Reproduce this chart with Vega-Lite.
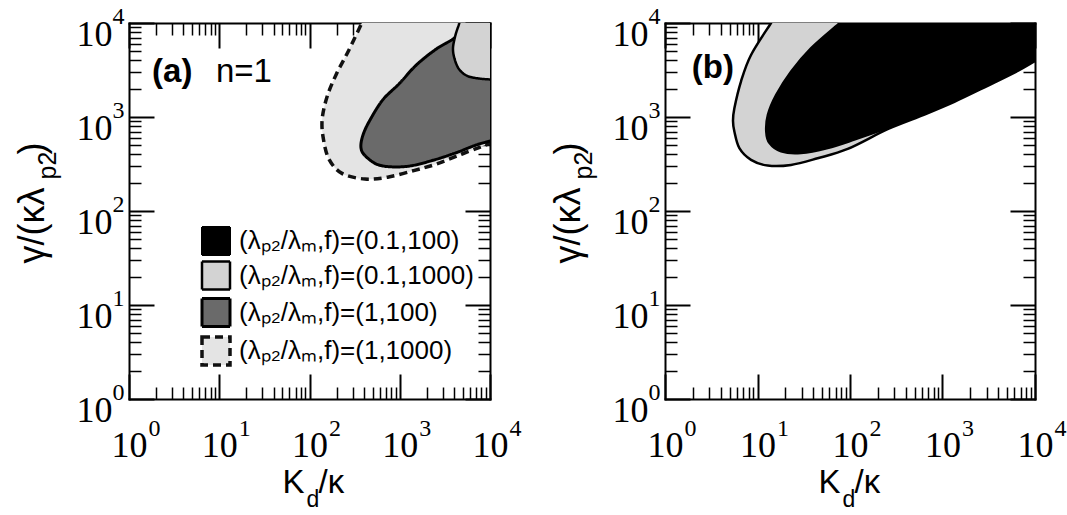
{
  "$schema": "https://vega.github.io/schema/vega-lite/v6.json",
  "padding": {"left": 14, "top": 4, "right": 5, "bottom": 5},
  "bounds": "flush",
  "spacing": 175,
  "config": {
    "view": {"stroke": null},
    "axis": {"grid": false, "domainColor": "black", "tickColor": "black", "labelColor": "black", "titleColor": "black", "labelFlush": false, "labelOverlap": false, "labelBound": false, "zindex": 1, "domainCap": "square", "titleFont": "Liberation Sans", "titleFontWeight": "normal", "titleFontSize": 33, "labelFont": "Liberation Serif"}
  },
  "datasets": {
    "regions": [
      {"p": "a", "s": "(1,1000)", "i": 0, "x": 426.6, "y": 12589},
      {"p": "a", "s": "(1,1000)", "i": 1, "x": 380.2, "y": 10000},
      {"p": "a", "s": "(1,1000)", "i": 2, "x": 269.2, "y": 5012},
      {"p": "a", "s": "(1,1000)", "i": 3, "x": 197.0, "y": 2818},
      {"p": "a", "s": "(1,1000)", "i": 4, "x": 155.9, "y": 1622},
      {"p": "a", "s": "(1,1000)", "i": 5, "x": 138.0, "y": 933.3},
      {"p": "a", "s": "(1,1000)", "i": 6, "x": 142.9, "y": 575.4},
      {"p": "a", "s": "(1,1000)", "i": 7, "x": 164.8, "y": 354.8},
      {"p": "a", "s": "(1,1000)", "i": 8, "x": 229.1, "y": 251.2},
      {"p": "a", "s": "(1,1000)", "i": 9, "x": 411.1, "y": 218.8},
      {"p": "a", "s": "(1,1000)", "i": 10, "x": 734.5, "y": 229.1},
      {"p": "a", "s": "(1,1000)", "i": 11, "x": 1429, "y": 269.2},
      {"p": "a", "s": "(1,1000)", "i": 12, "x": 2559, "y": 316.2},
      {"p": "a", "s": "(1,1000)", "i": 13, "x": 4571, "y": 393.6},
      {"p": "a", "s": "(1,1000)", "i": 14, "x": 7534, "y": 473.2},
      {"p": "a", "s": "(1,1000)", "i": 15, "x": 10000, "y": 524.8},
      {"p": "a", "s": "(1,1000)", "i": 16, "x": 13183, "y": 582.1},
      {"p": "a", "s": "(1,1000)", "i": 17, "x": 19953, "y": 631.0},
      {"p": "a", "s": "(1,1000)", "i": 18, "x": 19953, "y": 19953},
      {"p": "a", "s": "(1,1000)", "i": 19, "x": 426.6, "y": 19953},

      {"p": "a", "s": "(1,100)", "i": 0, "x": 6607, "y": 12589},
      {"p": "a", "s": "(1,100)", "i": 1, "x": 5754, "y": 10000},
      {"p": "a", "s": "(1,100)", "i": 2, "x": 4169, "y": 7079},
      {"p": "a", "s": "(1,100)", "i": 3, "x": 2512, "y": 5248},
      {"p": "a", "s": "(1,100)", "i": 4, "x": 1514, "y": 3548},
      {"p": "a", "s": "(1,100)", "i": 5, "x": 1000, "y": 2291},
      {"p": "a", "s": "(1,100)", "i": 6, "x": 645.7, "y": 1514},
      {"p": "a", "s": "(1,100)", "i": 7, "x": 457.1, "y": 891.3},
      {"p": "a", "s": "(1,100)", "i": 8, "x": 389.0, "y": 631.0},
      {"p": "a", "s": "(1,100)", "i": 9, "x": 371.5, "y": 473.2},
      {"p": "a", "s": "(1,100)", "i": 10, "x": 411.1, "y": 389.0},
      {"p": "a", "s": "(1,100)", "i": 11, "x": 549.5, "y": 316.2},
      {"p": "a", "s": "(1,100)", "i": 12, "x": 794.3, "y": 295.1},
      {"p": "a", "s": "(1,100)", "i": 13, "x": 1318, "y": 302.0},
      {"p": "a", "s": "(1,100)", "i": 14, "x": 2344, "y": 346.7},
      {"p": "a", "s": "(1,100)", "i": 15, "x": 4217, "y": 416.9},
      {"p": "a", "s": "(1,100)", "i": 16, "x": 6918, "y": 501.2},
      {"p": "a", "s": "(1,100)", "i": 17, "x": 10000, "y": 555.9},
      {"p": "a", "s": "(1,100)", "i": 18, "x": 13183, "y": 602.6},
      {"p": "a", "s": "(1,100)", "i": 19, "x": 19953, "y": 660.7},
      {"p": "a", "s": "(1,100)", "i": 20, "x": 19953, "y": 19953},
      {"p": "a", "s": "(1,100)", "i": 21, "x": 6607, "y": 19953},

      {"p": "a", "s": "(0.1,1000)", "i": 0, "x": 4786, "y": 12589},
      {"p": "a", "s": "(0.1,1000)", "i": 1, "x": 4571, "y": 10000},
      {"p": "a", "s": "(0.1,1000)", "i": 2, "x": 4140, "y": 7413},
      {"p": "a", "s": "(0.1,1000)", "i": 3, "x": 3890, "y": 5370},
      {"p": "a", "s": "(0.1,1000)", "i": 4, "x": 4074, "y": 4074},
      {"p": "a", "s": "(0.1,1000)", "i": 5, "x": 4571, "y": 3199},
      {"p": "a", "s": "(0.1,1000)", "i": 6, "x": 5623, "y": 2729},
      {"p": "a", "s": "(0.1,1000)", "i": 7, "x": 7534, "y": 2570},
      {"p": "a", "s": "(0.1,1000)", "i": 8, "x": 10000, "y": 2512},
      {"p": "a", "s": "(0.1,1000)", "i": 9, "x": 13183, "y": 2512},
      {"p": "a", "s": "(0.1,1000)", "i": 10, "x": 19953, "y": 2512},
      {"p": "a", "s": "(0.1,1000)", "i": 11, "x": 19953, "y": 19953},
      {"p": "a", "s": "(0.1,1000)", "i": 12, "x": 4786, "y": 19953},

      {"p": "b", "s": "(0.1,1000)", "i": 0, "x": 16.22, "y": 12589},
      {"p": "b", "s": "(0.1,1000)", "i": 1, "x": 14.00, "y": 10000},
      {"p": "b", "s": "(0.1,1000)", "i": 2, "x": 8.511, "y": 4571},
      {"p": "b", "s": "(0.1,1000)", "i": 3, "x": 6.637, "y": 2399},
      {"p": "b", "s": "(0.1,1000)", "i": 4, "x": 5.623, "y": 1242},
      {"p": "b", "s": "(0.1,1000)", "i": 5, "x": 5.433, "y": 912.0},
      {"p": "b", "s": "(0.1,1000)", "i": 6, "x": 5.623, "y": 699.8},
      {"p": "b", "s": "(0.1,1000)", "i": 7, "x": 6.368, "y": 465.6},
      {"p": "b", "s": "(0.1,1000)", "i": 8, "x": 8.511, "y": 349.9},
      {"p": "b", "s": "(0.1,1000)", "i": 9, "x": 12.88, "y": 304.1},
      {"p": "b", "s": "(0.1,1000)", "i": 10, "x": 23.01, "y": 309.0},
      {"p": "b", "s": "(0.1,1000)", "i": 11, "x": 44.67, "y": 363.9},
      {"p": "b", "s": "(0.1,1000)", "i": 12, "x": 94.41, "y": 457.1},
      {"p": "b", "s": "(0.1,1000)", "i": 13, "x": 255.3, "y": 741.3},
      {"p": "b", "s": "(0.1,1000)", "i": 14, "x": 586.1, "y": 1028},
      {"p": "b", "s": "(0.1,1000)", "i": 15, "x": 1343, "y": 1452},
      {"p": "b", "s": "(0.1,1000)", "i": 16, "x": 3076, "y": 2148},
      {"p": "b", "s": "(0.1,1000)", "i": 17, "x": 6501, "y": 3090},
      {"p": "b", "s": "(0.1,1000)", "i": 18, "x": 10000, "y": 3936},
      {"p": "b", "s": "(0.1,1000)", "i": 19, "x": 13183, "y": 4571},
      {"p": "b", "s": "(0.1,1000)", "i": 20, "x": 19953, "y": 5754},
      {"p": "b", "s": "(0.1,1000)", "i": 21, "x": 19953, "y": 19953},
      {"p": "b", "s": "(0.1,1000)", "i": 22, "x": 16.22, "y": 19953},

      {"p": "b", "s": "(0.1,100)", "i": 0, "x": 98.86, "y": 12589},
      {"p": "b", "s": "(0.1,100)", "i": 1, "x": 76.74, "y": 10000},
      {"p": "b", "s": "(0.1,100)", "i": 2, "x": 37.84, "y": 5420},
      {"p": "b", "s": "(0.1,100)", "i": 3, "x": 23.01, "y": 3055},
      {"p": "b", "s": "(0.1,100)", "i": 4, "x": 15.85, "y": 1722},
      {"p": "b", "s": "(0.1,100)", "i": 5, "x": 12.88, "y": 1054},
      {"p": "b", "s": "(0.1,100)", "i": 6, "x": 12.36, "y": 699.8},
      {"p": "b", "s": "(0.1,100)", "i": 7, "x": 13.43, "y": 526.0},
      {"p": "b", "s": "(0.1,100)", "i": 8, "x": 17.95, "y": 428.5},
      {"p": "b", "s": "(0.1,100)", "i": 9, "x": 29.51, "y": 412.1},
      {"p": "b", "s": "(0.1,100)", "i": 10, "x": 57.41, "y": 465.6},
      {"p": "b", "s": "(0.1,100)", "i": 11, "x": 111.4, "y": 571.5},
      {"p": "b", "s": "(0.1,100)", "i": 12, "x": 255.3, "y": 760.3},
      {"p": "b", "s": "(0.1,100)", "i": 13, "x": 586.1, "y": 1054},
      {"p": "b", "s": "(0.1,100)", "i": 14, "x": 1343, "y": 1486},
      {"p": "b", "s": "(0.1,100)", "i": 15, "x": 3076, "y": 2203},
      {"p": "b", "s": "(0.1,100)", "i": 16, "x": 6501, "y": 3184},
      {"p": "b", "s": "(0.1,100)", "i": 17, "x": 10000, "y": 4027},
      {"p": "b", "s": "(0.1,100)", "i": 18, "x": 13183, "y": 4677},
      {"p": "b", "s": "(0.1,100)", "i": 19, "x": 19953, "y": 5888},
      {"p": "b", "s": "(0.1,100)", "i": 20, "x": 19953, "y": 19953},
      {"p": "b", "s": "(0.1,100)", "i": 21, "x": 98.86, "y": 19953}
    ]
  },
  "hconcat": [
    {
      "width": 361,
      "height": 376,
      "resolve": {"axis": {"x": "independent", "y": "independent"}},
      "layer": [
        {
          "data": {"name": "regions"},
          "transform": [{"filter": "datum.p == 'a' && datum.s == '(1,1000)'"}],
          "mark": {"type": "line", "clip": true, "interpolate": "cardinal"},
          "encoding": {
            "x": {"field": "x", "type": "quantitative", "scale": {"type": "log", "domain": [1, 10000], "nice": false},
                  "axis": {"orient": "bottom", "values": [1, 10, 100, 1000, 10000], "tickSize": -25, "tickWidth": 2, "labels": false, "domain": true, "domainWidth": 2,
                           "title": "/κ", "titleX": 189, "titleY": 93, "titleAlign": "left", "titleBaseline": "alphabetic", "titleAngle": 0}},
            "y": {"field": "y", "type": "quantitative", "scale": {"type": "log", "domain": [1, 10000], "nice": false},
                  "axis": {"orient": "left", "values": [1, 10, 100, 1000, 10000], "tickSize": -25, "tickWidth": 2, "labels": false, "domain": true, "domainWidth": 2,
                           "title": ")", "titleX": -86, "titleY": 131, "titleFontSize": 36, "titleAlign": "left", "titleBaseline": "alphabetic", "titleAngle": 270}},
            "order": {"field": "i", "type": "quantitative"},
            "fill": {"field": "s", "type": "nominal", "scale": {"domain": ["(0.1,100)", "(0.1,1000)", "(1,100)", "(1,1000)"], "range": ["#000000", "#d3d3d3", "#6a6a6a", "#e4e4e4"]},
                     "legend": {"title": null, "orient": "none", "legendX": 71, "legendY": 203, "symbolType": "square", "symbolSize": 784, "labelFont": "Liberation Sans", "labelFontSize": 26, "labelLimit": 0, "labelOffset": 7, "rowPadding": -3, "padding": 0, "labelColor": "black", "labelExpr": "'(λₚ₂/λₘ,f)=' + datum.label"}},
            "stroke": {"field": "s", "type": "nominal", "scale": {"domain": ["(0.1,100)", "(0.1,1000)", "(1,100)", "(1,1000)"], "range": ["#000000", "#000000", "#000000", "#111111"]},
                     "legend": {"title": null, "orient": "none", "legendX": 71, "legendY": 203, "symbolType": "square", "symbolSize": 784, "labelFont": "Liberation Sans", "labelFontSize": 26, "labelLimit": 0, "labelOffset": 7, "rowPadding": -3, "padding": 0, "labelColor": "black", "labelExpr": "'(λₚ₂/λₘ,f)=' + datum.label"}},
            "strokeDash": {"field": "s", "type": "nominal", "scale": {"domain": ["(0.1,100)", "(0.1,1000)", "(1,100)", "(1,1000)"], "range": [[1, 0], [1, 0], [1, 0], [8, 5]]},
                     "legend": {"title": null, "orient": "none", "legendX": 71, "legendY": 203, "symbolType": "square", "symbolSize": 784, "labelFont": "Liberation Sans", "labelFontSize": 26, "labelLimit": 0, "labelOffset": 7, "rowPadding": -3, "padding": 0, "labelColor": "black", "labelExpr": "'(λₚ₂/λₘ,f)=' + datum.label"}},
            "strokeWidth": {"field": "s", "type": "nominal", "scale": {"domain": ["(0.1,100)", "(0.1,1000)", "(1,100)", "(1,1000)"], "range": [2, 3.5, 1.2, 1.4]},
                     "legend": {"title": null, "orient": "none", "legendX": 71, "legendY": 203, "symbolType": "square", "symbolSize": 784, "labelFont": "Liberation Sans", "labelFontSize": 26, "labelLimit": 0, "labelOffset": 7, "rowPadding": -3, "padding": 0, "labelColor": "black", "labelExpr": "'(λₚ₂/λₘ,f)=' + datum.label"}}
          }
        },
        {
          "data": {"name": "regions"},
          "transform": [{"filter": "datum.p == 'a' && datum.s == '(1,100)'"}],
          "mark": {"type": "line", "clip": true, "interpolate": "cardinal"},
          "encoding": {
            "x": {"field": "x", "type": "quantitative", "scale": {"type": "log", "domain": [1, 10000], "nice": false},
                  "axis": {"orient": "bottom", "values": [2,3,4,5,6,7,8,9,20,30,40,50,60,70,80,90,200,300,400,500,600,700,800,900,2000,3000,4000,5000,6000,7000,8000,9000], "tickSize": -12, "tickWidth": 1.5, "labels": false, "domain": false, "title": null}},
            "y": {"field": "y", "type": "quantitative", "scale": {"type": "log", "domain": [1, 10000], "nice": false},
                  "axis": {"orient": "left", "values": [2,3,4,5,6,7,8,9,20,30,40,50,60,70,80,90,200,300,400,500,600,700,800,900,2000,3000,4000,5000,6000,7000,8000,9000], "tickSize": -12, "tickWidth": 1.5, "labels": false, "domain": false, "title": null}},
            "order": {"field": "i", "type": "quantitative"},
            "fill": {"field": "s", "type": "nominal", "scale": {"domain": ["(0.1,100)", "(0.1,1000)", "(1,100)", "(1,1000)"], "range": ["#000000", "#d3d3d3", "#6a6a6a", "#e4e4e4"]}},
            "stroke": {"field": "s", "type": "nominal", "scale": {"domain": ["(0.1,100)", "(0.1,1000)", "(1,100)", "(1,1000)"], "range": ["#000000", "#000000", "#000000", "#111111"]}},
            "strokeDash": {"field": "s", "type": "nominal", "scale": {"domain": ["(0.1,100)", "(0.1,1000)", "(1,100)", "(1,1000)"], "range": [[1, 0], [1, 0], [1, 0], [8, 5]]}},
            "strokeWidth": {"field": "s", "type": "nominal", "scale": {"domain": ["(0.1,100)", "(0.1,1000)", "(1,100)", "(1,1000)"], "range": [2, 3.5, 1.2, 1.4]}}
          }
        },
        {
          "data": {"name": "regions"},
          "transform": [{"filter": "datum.p == 'a' && datum.s == '(0.1,1000)'"}],
          "mark": {"type": "line", "clip": true, "interpolate": "cardinal"},
          "encoding": {
            "x": {"field": "x", "type": "quantitative", "scale": {"type": "log", "domain": [1, 10000], "nice": false},
                  "axis": {"orient": "top", "values": [1, 10, 100, 1000, 10000], "tickSize": -25, "tickWidth": 2, "labels": false, "domain": true, "domainWidth": 2, "title": null}},
            "y": {"field": "y", "type": "quantitative", "scale": {"type": "log", "domain": [1, 10000], "nice": false},
                  "axis": {"orient": "right", "values": [1, 10, 100, 1000, 10000], "tickSize": -25, "tickWidth": 2, "labels": false, "domain": true, "domainWidth": 2, "title": null}},
            "order": {"field": "i", "type": "quantitative"},
            "fill": {"field": "s", "type": "nominal", "scale": {"domain": ["(0.1,100)", "(0.1,1000)", "(1,100)", "(1,1000)"], "range": ["#000000", "#d3d3d3", "#6a6a6a", "#e4e4e4"]}},
            "stroke": {"field": "s", "type": "nominal", "scale": {"domain": ["(0.1,100)", "(0.1,1000)", "(1,100)", "(1,1000)"], "range": ["#000000", "#000000", "#000000", "#111111"]}},
            "strokeDash": {"field": "s", "type": "nominal", "scale": {"domain": ["(0.1,100)", "(0.1,1000)", "(1,100)", "(1,1000)"], "range": [[1, 0], [1, 0], [1, 0], [8, 5]]}},
            "strokeWidth": {"field": "s", "type": "nominal", "scale": {"domain": ["(0.1,100)", "(0.1,1000)", "(1,100)", "(1,1000)"], "range": [2, 3.5, 1.2, 1.4]}}
          }
        },
        {
          "data": {"values": [{}]},
          "mark": {"type": "text", "align": "left", "baseline": "middle", "font": "Liberation Sans", "fontSize": 33, "fontWeight": "bold"},
          "encoding": {
            "x": {"datum": 1.8, "type": "quantitative", "scale": {"type": "log", "domain": [1, 10000], "nice": false},
                  "axis": {"orient": "top", "values": [2,3,4,5,6,7,8,9,20,30,40,50,60,70,80,90,200,300,400,500,600,700,800,900,2000,3000,4000,5000,6000,7000,8000,9000], "tickSize": -12, "tickWidth": 1.5, "labels": false, "domain": false, "title": null}},
            "y": {"datum": 3020, "type": "quantitative", "scale": {"type": "log", "domain": [1, 10000], "nice": false},
                  "axis": {"orient": "right", "values": [2,3,4,5,6,7,8,9,20,30,40,50,60,70,80,90,200,300,400,500,600,700,800,900,2000,3000,4000,5000,6000,7000,8000,9000], "tickSize": -12, "tickWidth": 1.5, "labels": false, "domain": false, "title": null}},
            "text": {"value": "(a)"}
          }
        },
        {
          "data": {"values": [{}]},
          "mark": {"type": "text", "align": "left", "baseline": "middle", "font": "Liberation Sans", "fontSize": 33},
          "encoding": {
            "x": {"datum": 9.2, "type": "quantitative", "scale": {"type": "log", "domain": [1, 10000], "nice": false},
                  "axis": {"orient": "bottom", "values": [1, 10, 100, 1000, 10000], "ticks": false, "domain": false, "labelExpr": "'10'", "labelFontSize": 36, "labelBaseline": "alphabetic", "labelAlign": "center", "labelPadding": 57, "labelOffset": 0,
                           "title": "K", "titleX": 153, "titleY": 93, "titleAlign": "left", "titleBaseline": "alphabetic", "titleAngle": 0}},
            "y": {"datum": 3020, "type": "quantitative", "scale": {"type": "log", "domain": [1, 10000], "nice": false},
                  "axis": {"orient": "left", "values": [1, 10, 100, 1000, 10000], "ticks": false, "domain": false, "labelExpr": "'10'", "labelFontSize": 36, "labelBaseline": "alphabetic", "labelAlign": "right", "labelPadding": 17, "labelOffset": 22,
                           "title": "γ/(κλ", "titleX": -86, "titleY": 240, "titleFontSize": 36, "titleAlign": "left", "titleBaseline": "alphabetic", "titleAngle": 270}},
            "text": {"value": "n=1"}
          }
        },
        {
          "data": {"values": []},
          "mark": "point",
          "encoding": {
            "x": {"field": "x", "type": "quantitative", "scale": {"type": "log", "domain": [1, 10000], "nice": false},
                  "axis": {"orient": "bottom", "values": [1, 10, 100, 1000, 10000], "ticks": false, "domain": false, "labelExpr": "'' + round(log(datum.value) / LN10)", "labelFontSize": 24, "labelBaseline": "alphabetic", "labelAlign": "left", "labelPadding": 36, "labelOffset": 19,
                           "title": "d", "titleX": 177, "titleY": 107, "titleFontSize": 23, "titleAlign": "left", "titleBaseline": "alphabetic", "titleAngle": 0}},
            "y": {"field": "y", "type": "quantitative", "scale": {"type": "log", "domain": [1, 10000], "nice": false},
                  "axis": {"orient": "left", "values": [1, 10, 100, 1000, 10000], "ticks": false, "domain": false, "labelExpr": "'' + round(log(datum.value) / LN10)", "labelFontSize": 24, "labelBaseline": "alphabetic", "labelAlign": "left", "labelPadding": 17, "labelOffset": 0,
                           "title": "p2", "titleX": -74, "titleY": 156, "titleFontSize": 25, "titleAlign": "left", "titleBaseline": "alphabetic", "titleAngle": 270}}
          }
        }
      ]
    },
    {
      "width": 370,
      "height": 376,
      "resolve": {"axis": {"x": "independent", "y": "independent"}},
      "layer": [
        {
          "data": {"name": "regions"},
          "transform": [{"filter": "datum.p == 'b' && datum.s == '(0.1,1000)'"}],
          "mark": {"type": "line", "clip": true, "interpolate": "cardinal"},
          "encoding": {
            "x": {"field": "x", "type": "quantitative", "scale": {"type": "log", "domain": [1, 10000], "nice": false},
                  "axis": {"orient": "bottom", "values": [1, 10, 100, 1000, 10000], "tickSize": -25, "tickWidth": 2, "labels": false, "domain": true, "domainWidth": 2,
                           "title": "/κ", "titleX": 189, "titleY": 93, "titleAlign": "left", "titleBaseline": "alphabetic", "titleAngle": 0}},
            "y": {"field": "y", "type": "quantitative", "scale": {"type": "log", "domain": [1, 10000], "nice": false},
                  "axis": {"orient": "left", "values": [1, 10, 100, 1000, 10000], "tickSize": -25, "tickWidth": 2, "labels": false, "domain": true, "domainWidth": 2,
                           "title": ")", "titleX": -86, "titleY": 131, "titleFontSize": 36, "titleAlign": "left", "titleBaseline": "alphabetic", "titleAngle": 270}},
            "order": {"field": "i", "type": "quantitative"},
            "fill": {"field": "s", "type": "nominal", "scale": {"domain": ["(0.1,100)", "(0.1,1000)", "(1,100)", "(1,1000)"], "range": ["#000000", "#d3d3d3", "#6a6a6a", "#e4e4e4"]}, "legend": null},
            "stroke": {"field": "s", "type": "nominal", "scale": {"domain": ["(0.1,100)", "(0.1,1000)", "(1,100)", "(1,1000)"], "range": ["#000000", "#000000", "#000000", "#111111"]}, "legend": null},
            "strokeWidth": {"field": "s", "type": "nominal", "scale": {"domain": ["(0.1,100)", "(0.1,1000)", "(1,100)", "(1,1000)"], "range": [1.5, 3.5, 1.2, 1.4]}, "legend": null}
          }
        },
        {
          "data": {"name": "regions"},
          "transform": [{"filter": "datum.p == 'b' && datum.s == '(0.1,100)'"}],
          "mark": {"type": "line", "clip": true, "interpolate": "cardinal"},
          "encoding": {
            "x": {"field": "x", "type": "quantitative", "scale": {"type": "log", "domain": [1, 10000], "nice": false},
                  "axis": {"orient": "bottom", "values": [2,3,4,5,6,7,8,9,20,30,40,50,60,70,80,90,200,300,400,500,600,700,800,900,2000,3000,4000,5000,6000,7000,8000,9000], "tickSize": -12, "tickWidth": 1.5, "labels": false, "domain": false, "title": null}},
            "y": {"field": "y", "type": "quantitative", "scale": {"type": "log", "domain": [1, 10000], "nice": false},
                  "axis": {"orient": "left", "values": [2,3,4,5,6,7,8,9,20,30,40,50,60,70,80,90,200,300,400,500,600,700,800,900,2000,3000,4000,5000,6000,7000,8000,9000], "tickSize": -12, "tickWidth": 1.5, "labels": false, "domain": false, "title": null}},
            "order": {"field": "i", "type": "quantitative"},
            "fill": {"field": "s", "type": "nominal", "scale": {"domain": ["(0.1,100)", "(0.1,1000)", "(1,100)", "(1,1000)"], "range": ["#000000", "#d3d3d3", "#6a6a6a", "#e4e4e4"]}, "legend": null},
            "stroke": {"field": "s", "type": "nominal", "scale": {"domain": ["(0.1,100)", "(0.1,1000)", "(1,100)", "(1,1000)"], "range": ["#000000", "#000000", "#000000", "#111111"]}, "legend": null},
            "strokeWidth": {"field": "s", "type": "nominal", "scale": {"domain": ["(0.1,100)", "(0.1,1000)", "(1,100)", "(1,1000)"], "range": [1.5, 3.5, 1.2, 1.4]}, "legend": null}
          }
        },
        {
          "data": {"values": [{}]},
          "mark": {"type": "text", "align": "left", "baseline": "middle", "font": "Liberation Sans", "fontSize": 33, "fontWeight": "bold"},
          "encoding": {
            "x": {"datum": 1.95, "type": "quantitative", "scale": {"type": "log", "domain": [1, 10000], "nice": false},
                  "axis": {"orient": "top", "values": [1, 10, 100, 1000, 10000], "tickSize": -25, "tickWidth": 2, "labels": false, "domain": true, "domainWidth": 2, "title": null}},
            "y": {"datum": 3311, "type": "quantitative", "scale": {"type": "log", "domain": [1, 10000], "nice": false},
                  "axis": {"orient": "right", "values": [1, 10, 100, 1000, 10000], "tickSize": -25, "tickWidth": 2, "labels": false, "domain": true, "domainWidth": 2, "title": null}},
            "text": {"value": "(b)"}
          }
        },
        {
          "data": {"values": []},
          "mark": "point",
          "encoding": {
            "x": {"field": "x", "type": "quantitative", "scale": {"type": "log", "domain": [1, 10000], "nice": false},
                  "axis": {"orient": "top", "values": [2,3,4,5,6,7,8,9,20,30,40,50,60,70,80,90,200,300,400,500,600,700,800,900,2000,3000,4000,5000,6000,7000,8000,9000], "tickSize": -12, "tickWidth": 1.5, "labels": false, "domain": false, "title": null}},
            "y": {"field": "y", "type": "quantitative", "scale": {"type": "log", "domain": [1, 10000], "nice": false},
                  "axis": {"orient": "right", "values": [2,3,4,5,6,7,8,9,20,30,40,50,60,70,80,90,200,300,400,500,600,700,800,900,2000,3000,4000,5000,6000,7000,8000,9000], "tickSize": -12, "tickWidth": 1.5, "labels": false, "domain": false, "title": null}}
          }
        },
        {
          "data": {"values": []},
          "mark": "point",
          "encoding": {
            "x": {"field": "x", "type": "quantitative", "scale": {"type": "log", "domain": [1, 10000], "nice": false},
                  "axis": {"orient": "bottom", "values": [1, 10, 100, 1000, 10000], "ticks": false, "domain": false, "labelExpr": "'10'", "labelFontSize": 36, "labelBaseline": "alphabetic", "labelAlign": "center", "labelPadding": 57, "labelOffset": 0,
                           "title": "K", "titleX": 153, "titleY": 93, "titleAlign": "left", "titleBaseline": "alphabetic", "titleAngle": 0}},
            "y": {"field": "y", "type": "quantitative", "scale": {"type": "log", "domain": [1, 10000], "nice": false},
                  "axis": {"orient": "left", "values": [1, 10, 100, 1000, 10000], "ticks": false, "domain": false, "labelExpr": "'10'", "labelFontSize": 36, "labelBaseline": "alphabetic", "labelAlign": "right", "labelPadding": 17, "labelOffset": 22,
                           "title": "γ/(κλ", "titleX": -86, "titleY": 240, "titleFontSize": 36, "titleAlign": "left", "titleBaseline": "alphabetic", "titleAngle": 270}}
          }
        },
        {
          "data": {"values": []},
          "mark": "point",
          "encoding": {
            "x": {"field": "x", "type": "quantitative", "scale": {"type": "log", "domain": [1, 10000], "nice": false},
                  "axis": {"orient": "bottom", "values": [1, 10, 100, 1000, 10000], "ticks": false, "domain": false, "labelExpr": "'' + round(log(datum.value) / LN10)", "labelFontSize": 24, "labelBaseline": "alphabetic", "labelAlign": "left", "labelPadding": 36, "labelOffset": 19,
                           "title": "d", "titleX": 177, "titleY": 107, "titleFontSize": 23, "titleAlign": "left", "titleBaseline": "alphabetic", "titleAngle": 0}},
            "y": {"field": "y", "type": "quantitative", "scale": {"type": "log", "domain": [1, 10000], "nice": false},
                  "axis": {"orient": "left", "values": [1, 10, 100, 1000, 10000], "ticks": false, "domain": false, "labelExpr": "'' + round(log(datum.value) / LN10)", "labelFontSize": 24, "labelBaseline": "alphabetic", "labelAlign": "left", "labelPadding": 17, "labelOffset": 0,
                           "title": "p2", "titleX": -74, "titleY": 156, "titleFontSize": 25, "titleAlign": "left", "titleBaseline": "alphabetic", "titleAngle": 270}}
          }
        }
      ]
    }
  ]
}
